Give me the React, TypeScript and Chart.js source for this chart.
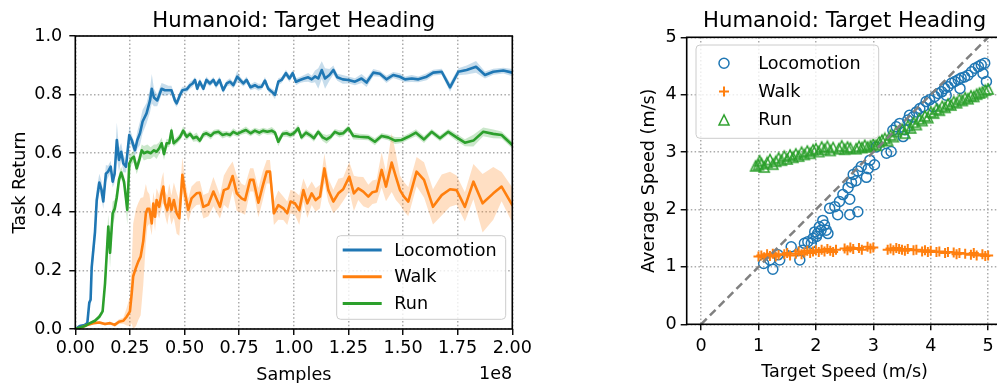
import React, { useEffect, useRef } from "react";
import { Chart, registerables } from "chart.js";

Chart.register(...registerables);

const FONT = '"DejaVu Sans", "Liberation Sans", sans-serif';
const BLUE = "#1f77b4";
const ORANGE = "#ff7f0e";
const GREEN = "#2ca02c";
const TITLE = "Humanoid: Target Heading";
const SERIES_NAMES = ["Locomotion", "Walk", "Run"];
const TEXT_SIZE = 17.6;
const TITLE_SIZE = 21.2;

// ---- Training curves (samples in units of 1e8) ----
const locoSamples = [
  0.0, 0.02, 0.044, 0.055, 0.064, 0.07, 0.075, 0.09, 0.098, 0.11,
  0.12, 0.128, 0.14, 0.15, 0.162, 0.171, 0.18, 0.19, 0.2, 0.21,
  0.22, 0.232, 0.247, 0.258, 0.273, 0.284, 0.296, 0.308, 0.326, 0.342,
  0.35, 0.36, 0.375, 0.395, 0.41, 0.426, 0.44, 0.456, 0.464, 0.48,
  0.49, 0.51, 0.525, 0.537, 0.548, 0.558, 0.57, 0.586, 0.6, 0.616,
  0.632, 0.644, 0.66, 0.677, 0.693, 0.708, 0.723, 0.741, 0.754, 0.769,
  0.784, 0.802, 0.822, 0.838, 0.853, 0.868, 0.883, 0.899, 0.914, 0.929,
  0.944, 0.964, 0.98, 0.995, 1.01, 1.028, 1.047, 1.066, 1.082, 1.097,
  1.112, 1.128, 1.143, 1.163, 1.181, 1.199, 1.224, 1.25, 1.28, 1.31,
  1.333, 1.364, 1.394, 1.424, 1.455, 1.486, 1.509, 1.54, 1.57, 1.608,
  1.638, 1.677, 1.715, 1.753, 1.791, 1.834, 1.875, 1.913, 1.959, 2.0,
];
const locoReturn = [
  0.0, 0.01, 0.014, 0.02, 0.09, 0.1, 0.21, 0.33, 0.44, 0.5,
  0.475, 0.435, 0.53, 0.537, 0.554, 0.503, 0.53, 0.645, 0.577, 0.605,
  0.565, 0.554, 0.662, 0.645, 0.61, 0.645, 0.668, 0.708, 0.736, 0.78,
  0.82, 0.79, 0.78, 0.82, 0.815, 0.815, 0.815, 0.78, 0.77, 0.8,
  0.815, 0.818, 0.832, 0.838, 0.85, 0.82, 0.844, 0.82, 0.85, 0.838,
  0.85, 0.832, 0.85, 0.815, 0.838, 0.844, 0.832, 0.861, 0.85, 0.838,
  0.85, 0.825, 0.832, 0.825, 0.827, 0.848, 0.82, 0.81, 0.799, 0.844,
  0.85, 0.873, 0.855, 0.873, 0.844, 0.85, 0.855, 0.859, 0.852, 0.862,
  0.855, 0.884, 0.855, 0.867, 0.884, 0.859, 0.852, 0.85, 0.844, 0.855,
  0.841, 0.875, 0.871, 0.852, 0.867, 0.861, 0.852, 0.855, 0.852, 0.861,
  0.875, 0.878, 0.825, 0.878, 0.884, 0.895, 0.867, 0.878, 0.882, 0.875,
];
const locoSpread = [
  0.002, 0.004, 0.005, 0.006, 0.01, 0.015, 0.03, 0.04, 0.04, 0.03,
  0.03, 0.025, 0.03, 0.02, 0.02, 0.02, 0.03, 0.06, 0.04, 0.03,
  0.03, 0.02, 0.03, 0.02, 0.02, 0.03, 0.04, 0.04, 0.035, 0.04,
  0.05, 0.03, 0.02, 0.02, 0.02, 0.015, 0.015, 0.015, 0.012, 0.015,
  0.012, 0.01, 0.012, 0.012, 0.01, 0.01, 0.012, 0.01, 0.012, 0.01,
  0.01, 0.012, 0.012, 0.01, 0.01, 0.012, 0.01, 0.02, 0.012, 0.01,
  0.012, 0.01, 0.012, 0.012, 0.01, 0.012, 0.01, 0.01, 0.015, 0.012,
  0.01, 0.012, 0.012, 0.01, 0.012, 0.01, 0.012, 0.015, 0.012, 0.02,
  0.035, 0.03, 0.035, 0.02, 0.015, 0.012, 0.015, 0.012, 0.012, 0.015,
  0.015, 0.012, 0.01, 0.012, 0.01, 0.012, 0.01, 0.012, 0.01, 0.012,
  0.01, 0.01, 0.015, 0.012, 0.015, 0.02, 0.012, 0.01, 0.01, 0.012,
];

const walkSamples = [
  0.0, 0.03, 0.055, 0.082, 0.11, 0.136, 0.159, 0.18, 0.2, 0.22,
  0.235, 0.25, 0.258, 0.265, 0.278, 0.288, 0.299, 0.311, 0.323, 0.33,
  0.339, 0.35, 0.357, 0.365, 0.372, 0.384, 0.395, 0.403, 0.41, 0.421,
  0.43, 0.44, 0.451, 0.464, 0.476, 0.49, 0.502, 0.517, 0.532, 0.555,
  0.57, 0.586, 0.609, 0.632, 0.662, 0.68, 0.7, 0.72, 0.739, 0.761,
  0.777, 0.8, 0.815, 0.838, 0.857, 0.876, 0.891, 0.909, 0.929, 0.952,
  0.97, 0.985, 1.005, 1.025, 1.044, 1.062, 1.082, 1.1, 1.12, 1.14,
  1.158, 1.181, 1.204, 1.226, 1.254, 1.275, 1.295, 1.318, 1.341, 1.36,
  1.379, 1.402, 1.422, 1.448, 1.467, 1.486, 1.504, 1.524, 1.562, 1.596,
  1.637, 1.677, 1.715, 1.745, 1.783, 1.822, 1.864, 1.913, 1.951, 2.0,
];
const walkReturn = [
  0.0, 0.006, 0.014, 0.02, 0.022, 0.017, 0.02, 0.014, 0.025, 0.028,
  0.042, 0.06, 0.12, 0.18, 0.21, 0.23, 0.247, 0.3, 0.395, 0.41,
  0.41, 0.36, 0.428, 0.383, 0.44, 0.417, 0.463, 0.486, 0.43, 0.406,
  0.446, 0.406, 0.44, 0.395, 0.378, 0.526, 0.463, 0.406, 0.446, 0.463,
  0.465, 0.417, 0.425, 0.469, 0.417, 0.474, 0.48, 0.522, 0.463, 0.446,
  0.44, 0.509, 0.509, 0.431, 0.486, 0.537, 0.537, 0.395, 0.423, 0.412,
  0.395, 0.435, 0.429, 0.406, 0.474, 0.429, 0.463, 0.44, 0.452, 0.548,
  0.474, 0.435, 0.463, 0.477, 0.52, 0.463, 0.48, 0.469, 0.452, 0.467,
  0.47, 0.543, 0.486, 0.568, 0.52, 0.474, 0.452, 0.435, 0.537, 0.509,
  0.417, 0.457, 0.477, 0.474, 0.417, 0.503, 0.429, 0.463, 0.486, 0.423,
];
const walkSpread = [
  0.002, 0.003, 0.004, 0.005, 0.005, 0.005, 0.005, 0.006, 0.008, 0.01,
  0.03, 0.05, 0.1, 0.18, 0.2, 0.2, 0.2, 0.15, 0.1, 0.06,
  0.05, 0.04, 0.04, 0.05, 0.04, 0.04, 0.05, 0.05, 0.04, 0.05,
  0.05, 0.05, 0.06, 0.07, 0.06, 0.06, 0.05, 0.04, 0.04, 0.04,
  0.04, 0.04, 0.04, 0.05, 0.04, 0.05, 0.07, 0.05, 0.06, 0.05,
  0.05, 0.04, 0.04, 0.05, 0.05, 0.04, 0.04, 0.04, 0.05, 0.04,
  0.04, 0.04, 0.04, 0.05, 0.04, 0.05, 0.04, 0.04, 0.04, 0.05,
  0.04, 0.04, 0.05, 0.04, 0.05, 0.06, 0.04, 0.05, 0.04, 0.04,
  0.04, 0.06, 0.05, 0.1, 0.08, 0.05, 0.05, 0.05, 0.05, 0.06,
  0.06, 0.07, 0.06, 0.05, 0.05, 0.06, 0.1, 0.09, 0.05, 0.06,
];

const runSamples = [
  0.0, 0.044, 0.067, 0.09, 0.11, 0.125, 0.136, 0.143, 0.151, 0.159,
  0.171, 0.18, 0.19, 0.2, 0.21, 0.223, 0.238, 0.247, 0.258, 0.268,
  0.281, 0.293, 0.304, 0.314, 0.33, 0.345, 0.36, 0.372, 0.384, 0.395,
  0.406, 0.418, 0.43, 0.44, 0.45, 0.467, 0.48, 0.494, 0.51, 0.525,
  0.54, 0.555, 0.57, 0.586, 0.6, 0.62, 0.635, 0.655, 0.674, 0.693,
  0.708, 0.723, 0.741, 0.761, 0.781, 0.802, 0.822, 0.842, 0.86, 0.879,
  0.899, 0.914, 0.929, 0.949, 0.967, 0.984, 1.0, 1.02, 1.035, 1.056,
  1.074, 1.092, 1.112, 1.132, 1.15, 1.169, 1.188, 1.208, 1.226, 1.25,
  1.272, 1.3, 1.341, 1.371, 1.402, 1.432, 1.463, 1.493, 1.524, 1.559,
  1.596, 1.631, 1.669, 1.707, 1.745, 1.783, 1.822, 1.867, 1.913, 1.951, 2.0,
];
const runReturn = [
  0.0, 0.01, 0.02, 0.028, 0.042, 0.06, 0.155, 0.245, 0.35, 0.26,
  0.395, 0.41, 0.45, 0.51, 0.534, 0.503, 0.406, 0.565, 0.582, 0.588,
  0.548, 0.577, 0.61, 0.6, 0.605, 0.6, 0.61, 0.605, 0.617, 0.634,
  0.597, 0.634, 0.634, 0.677, 0.634, 0.645, 0.656, 0.677, 0.656, 0.666,
  0.651, 0.656, 0.643, 0.664, 0.668, 0.659, 0.67, 0.673, 0.662, 0.666,
  0.662, 0.673, 0.666, 0.673, 0.679, 0.668, 0.677, 0.67, 0.677, 0.673,
  0.677, 0.67, 0.639, 0.666, 0.668, 0.662, 0.668, 0.685, 0.654, 0.67,
  0.662, 0.651, 0.673, 0.654, 0.647, 0.656, 0.673, 0.666, 0.668, 0.685,
  0.659, 0.656, 0.654, 0.639, 0.659, 0.654, 0.643, 0.645, 0.656, 0.67,
  0.647, 0.673, 0.651, 0.673, 0.654, 0.636, 0.643, 0.673, 0.666, 0.662, 0.628,
];
const runSpread = [
  0.002, 0.004, 0.005, 0.006, 0.008, 0.01, 0.03, 0.05, 0.04, 0.05,
  0.04, 0.03, 0.03, 0.02, 0.02, 0.02, 0.05, 0.03, 0.02, 0.02,
  0.02, 0.02, 0.02, 0.025, 0.025, 0.02, 0.02, 0.025, 0.02, 0.02,
  0.02, 0.015, 0.012, 0.015, 0.012, 0.012, 0.012, 0.015, 0.012, 0.01,
  0.012, 0.015, 0.01, 0.012, 0.01, 0.012, 0.01, 0.01, 0.012, 0.01,
  0.01, 0.012, 0.01, 0.01, 0.012, 0.01, 0.01, 0.012, 0.01, 0.01,
  0.012, 0.01, 0.015, 0.01, 0.012, 0.01, 0.01, 0.012, 0.01, 0.012,
  0.01, 0.012, 0.01, 0.012, 0.015, 0.01, 0.01, 0.012, 0.01, 0.01,
  0.012, 0.01, 0.01, 0.012, 0.01, 0.01, 0.012, 0.01, 0.01, 0.012,
  0.012, 0.01, 0.01, 0.01, 0.012, 0.012, 0.02, 0.015, 0.015, 0.012, 0.012,
];

// ---- Speed tracking (m/s) ----
const locoTarget = [
  1.09, 1.2, 1.25, 1.34, 1.37, 1.57, 1.72, 1.77, 1.8, 1.86,
  1.92, 1.95, 1.98, 2.01, 2.03, 2.06, 2.09, 2.12, 2.15, 2.18,
  2.21, 2.24, 2.33, 2.38, 2.41, 2.47, 2.56, 2.59, 2.59, 2.62,
  2.65, 2.7, 2.73, 2.73, 2.79, 2.88, 2.91, 2.94, 3.02, 3.05,
  3.23, 3.31, 3.34, 3.4, 3.46, 3.52, 3.55, 3.6, 3.63, 3.69,
  3.75, 3.81, 3.87, 3.92, 3.98, 4.04, 4.07, 4.13, 4.19, 4.24,
  4.27, 4.3, 4.36, 4.42, 4.48, 4.51, 4.53, 4.59, 4.65, 4.71,
  4.77, 4.83, 4.88, 4.91, 4.94, 4.97,
];
const locoAverage = [
  1.06, 1.12, 0.96, 1.21, 1.12, 1.35, 1.12, 1.29, 1.41, 1.44,
  1.41, 1.5, 1.61, 1.53, 1.58, 1.7, 1.64, 1.81, 1.73, 1.64,
  1.58, 2.02, 2.05, 1.91, 2.14, 2.26, 2.38, 2.18, 1.91, 2.47,
  2.61, 2.5, 2.67, 1.96, 2.75, 2.56, 2.71, 2.86, 2.78, 3.09,
  2.98, 3.01, 3.38, 3.44, 3.5, 3.27, 3.39, 3.56, 3.64, 3.61,
  3.7, 3.76, 3.79, 3.88, 3.91, 3.79, 3.97, 4.02, 4.05, 4.11,
  3.99, 4.14, 4.2, 4.23, 4.26, 4.11, 4.29, 4.31, 4.34, 4.4,
  4.46, 4.49, 4.52, 4.37, 4.55, 4.23,
];

const walkTarget = [
  1.0, 1.05, 1.1, 1.15, 1.2, 1.25, 1.3, 1.35, 1.45, 1.5,
  1.55, 1.65, 1.7, 1.75, 1.8, 1.85, 1.9, 1.95, 2.0, 2.05,
  2.1, 2.15, 2.2, 2.25, 2.3, 2.35, 2.5, 2.55, 2.6, 2.65,
  2.75, 2.8, 2.9, 2.95, 3.0, 3.25, 3.3, 3.35, 3.4, 3.45,
  3.5, 3.55, 3.6, 3.7, 3.75, 3.85, 3.9, 3.95, 4.0, 4.1,
  4.15, 4.25, 4.3, 4.4, 4.45, 4.5, 4.6, 4.7, 4.75, 4.8,
  4.9, 4.95, 5.0,
];
const walkAverage = [
  1.18, 1.2, 1.17, 1.22, 1.19, 1.23, 1.18, 1.21, 1.22, 1.24,
  1.2, 1.23, 1.27, 1.22, 1.25, 1.28, 1.24, 1.27, 1.29, 1.26,
  1.3, 1.27, 1.31, 1.28, 1.26, 1.3, 1.32, 1.29, 1.34, 1.31,
  1.33, 1.3, 1.35, 1.32, 1.34, 1.3, 1.32, 1.29, 1.33, 1.31,
  1.3, 1.28, 1.31, 1.29, 1.3, 1.27, 1.29, 1.26, 1.28, 1.26,
  1.27, 1.24, 1.26, 1.25, 1.22, 1.24, 1.23, 1.21, 1.24, 1.2,
  1.22, 1.19, 1.2,
];

const runTarget = [
  0.95, 1.0, 1.02, 1.05, 1.1, 1.15, 1.2, 1.25, 1.3, 1.35,
  1.4, 1.45, 1.5, 1.55, 1.6, 1.65, 1.7, 1.75, 1.8, 1.85,
  1.9, 1.95, 2.0, 2.05, 2.1, 2.15, 2.2, 2.25, 2.3, 2.4,
  2.45, 2.5, 2.55, 2.6, 2.7, 2.75, 2.8, 2.85, 2.9, 2.95,
  3.0, 3.05, 3.1, 3.15, 3.2, 3.25, 3.3, 3.35, 3.4, 3.5,
  3.55, 3.6, 3.65, 3.7, 3.75, 3.8, 3.85, 3.9, 3.95, 4.0,
  4.05, 4.1, 4.15, 4.2, 4.25, 4.3, 4.35, 4.4, 4.45, 4.5,
  4.55, 4.6, 4.65, 4.7, 4.75, 4.8, 4.85, 4.9, 4.95, 5.0,
];
const runAverage = [
  2.76, 2.78, 2.85, 2.8, 2.74, 2.82, 2.87, 2.79, 2.84, 2.9,
  2.86, 2.93, 2.88, 2.95, 2.91, 2.97, 2.93, 3.0, 2.96, 3.02,
  2.98, 3.04, 3.06, 3.01, 3.09, 3.05, 3.1, 3.03, 3.08, 3.06,
  3.11, 3.05, 3.09, 3.07, 3.06, 3.1, 3.08, 3.12, 3.09, 3.11,
  3.14, 3.12, 3.18, 3.21, 3.24, 3.2, 3.3, 3.27, 3.36, 3.4,
  3.33, 3.46, 3.42, 3.52, 3.48, 3.58, 3.55, 3.63, 3.6, 3.7,
  3.68, 3.75, 3.73, 3.8, 3.78, 3.84, 3.82, 3.88, 3.86, 3.92,
  3.9, 3.95, 3.93, 3.98, 3.97, 4.01, 4.03, 4.05, 4.08, 4.1,
];

const identityLine = [0, 5];

// ---- Tick values ----
const SAMPLE_TICKS = [0, 0.25, 0.5, 0.75, 1.0, 1.25, 1.5, 1.75, 2.0];
const RETURN_TICKS = [0, 0.2, 0.4, 0.6, 0.8, 1.0];
const SPEED_TICKS = [0, 1, 2, 3, 4, 5];

const toPoints = (xs: number[], ys: number[]) => xs.map((x, i) => ({ x, y: ys[i] }));

const alpha = (hex: string, a: number) => {
  const n = parseInt(hex.slice(1), 16);
  return `rgba(${(n >> 16) & 255},${(n >> 8) & 255},${n & 255},${a})`;
};

function bandDatasets(xs: number[], ys: number[], spread: number[], color: string) {
  const hidden = { borderColor: "rgba(0,0,0,0)", borderWidth: 0, pointRadius: 0, order: 10 };
  return [
    { ...hidden, data: xs.map((x, i) => ({ x, y: ys[i] + spread[i] })), fill: false },
    {
      ...hidden,
      data: xs.map((x, i) => ({ x, y: Math.max(0, ys[i] - spread[i]) })),
      fill: "-1",
      backgroundColor: alpha(color, 0.25),
    },
  ];
}

function triangleMarker(color: string) {
  const c = document.createElement("canvas");
  c.width = 14;
  c.height = 14;
  const g = c.getContext("2d")!;
  g.strokeStyle = color;
  g.lineWidth = 1.5;
  g.lineJoin = "miter";
  g.beginPath();
  g.moveTo(7, 2);
  g.lineTo(2, 12);
  g.lineTo(12, 12);
  g.closePath();
  g.stroke();
  return c;
}

const GRID = {
  color: "#ababab",
  lineWidth: 1.5,
  tickColor: "#000",
  tickWidth: 1.4,
  tickLength: 6,
  drawTicks: true,
};
const BORDER = { display: false, dash: [1.5, 2.3] };
const TICK_FONT = { family: FONT, size: TEXT_SIZE };

function setTicks(values: number[]) {
  return (scale: any) => {
    scale.ticks = values.map((value) => ({ value }));
  };
}

function roundRect(ctx: CanvasRenderingContext2D, x: number, y: number, w: number, h: number, r: number) {
  ctx.beginPath();
  ctx.moveTo(x + r, y);
  ctx.lineTo(x + w - r, y);
  ctx.arcTo(x + w, y, x + w, y + r, r);
  ctx.lineTo(x + w, y + h - r);
  ctx.arcTo(x + w, y + h, x + w - r, y + h, r);
  ctx.lineTo(x + r, y + h);
  ctx.arcTo(x, y + h, x, y + h - r, r);
  ctx.lineTo(x, y + r);
  ctx.arcTo(x, y, x + r, y, r);
  ctx.closePath();
}

function drawFrameAndTitles(
  ctx: CanvasRenderingContext2D,
  a: any,
  xLabel: string,
  yLabel: string,
  yLabelX: number,
  xLabelY: number
) {
  ctx.strokeStyle = "#000";
  ctx.lineWidth = 1.6;
  ctx.strokeRect(a.left, a.top, a.right - a.left, a.bottom - a.top);
  ctx.fillStyle = "#000";
  ctx.font = `${TITLE_SIZE}px ${FONT}`;
  ctx.textAlign = "center";
  ctx.textBaseline = "alphabetic";
  ctx.fillText(TITLE, (a.left + a.right) / 2, 26.5);
  ctx.font = `${TEXT_SIZE}px ${FONT}`;
  ctx.fillText(xLabel, (a.left + a.right) / 2, xLabelY);
  ctx.save();
  ctx.translate(yLabelX, (a.top + a.bottom) / 2);
  ctx.rotate(-Math.PI / 2);
  ctx.fillText(yLabel, 0, 0);
  ctx.restore();
}

function drawLegendBox(ctx: CanvasRenderingContext2D, x: number, y: number, w: number, h: number) {
  roundRect(ctx, x, y, w, h, 4);
  ctx.fillStyle = "rgba(255,255,255,0.8)";
  ctx.fill();
  ctx.strokeStyle = "#cccccc";
  ctx.lineWidth = 1;
  ctx.stroke();
}

const curveOverlay = {
  id: "curveOverlay",
  afterDraw(chart: any) {
    const { ctx, chartArea: a } = chart;
    ctx.save();
    drawFrameAndTitles(ctx, a, "Samples", "Task Return", a.left - 50.3, 379.5);
    ctx.textAlign = "right";
    ctx.fillText("1e8", a.right, 378.5);

    const w = 169;
    const h = 83.6;
    const bx = a.right - 6.6 - w;
    const by = a.bottom - 9.7 - h;
    drawLegendBox(ctx, bx, by, w, h);
    const colors = [BLUE, ORANGE, GREEN];
    ctx.font = `${TEXT_SIZE}px ${FONT}`;
    ctx.textAlign = "left";
    ctx.textBaseline = "middle";
    SERIES_NAMES.forEach((name, i) => {
      const ry = by + 14.3 + i * 26.7;
      ctx.strokeStyle = colors[i];
      ctx.lineWidth = 3;
      ctx.beginPath();
      ctx.moveTo(bx + 6, ry);
      ctx.lineTo(bx + 45, ry);
      ctx.stroke();
      ctx.fillStyle = "#000";
      ctx.fillText(name, bx + 57.6, ry + 1);
    });
    ctx.restore();
  },
};

function makeSpeedOverlay(tri: HTMLCanvasElement) {
  return {
    id: "speedOverlay",
    afterDraw(chart: any) {
      const { ctx, chartArea: a } = chart;
      ctx.save();
      drawFrameAndTitles(ctx, a, "Target Speed (m/s)", "Average Speed (m/s)", a.left - 32.7, 377);

      const bx = a.left + 9.3;
      const by = a.top + 7.7;
      drawLegendBox(ctx, bx, by, 182.7, 93.3);
      ctx.font = `${TEXT_SIZE}px ${FONT}`;
      ctx.textAlign = "left";
      ctx.textBaseline = "middle";
      SERIES_NAMES.forEach((name, i) => {
        const ry = by + 18.3 + i * 28.3;
        const mx = bx + 28;
        if (i === 0) {
          ctx.strokeStyle = BLUE;
          ctx.lineWidth = 1.5;
          ctx.beginPath();
          ctx.arc(mx, ry, 5, 0, Math.PI * 2);
          ctx.stroke();
        } else if (i === 1) {
          ctx.strokeStyle = ORANGE;
          ctx.lineWidth = 2;
          ctx.beginPath();
          ctx.moveTo(mx - 5, ry);
          ctx.lineTo(mx + 5, ry);
          ctx.moveTo(mx, ry - 5);
          ctx.lineTo(mx, ry + 5);
          ctx.stroke();
        } else {
          ctx.drawImage(tri, mx - 7, ry - 7);
        }
        ctx.fillStyle = "#000";
        ctx.fillText(name, bx + 62.3, ry + 1);
      });
      ctx.restore();
    },
  };
}

export default function App() {
  const curveRef = useRef<HTMLCanvasElement>(null);
  const speedRef = useRef<HTMLCanvasElement>(null);

  useEffect(() => {
    const tri = triangleMarker(GREEN);

    const curveChart = new Chart(curveRef.current!, {
      type: "line",
      data: {
        datasets: [
          ...bandDatasets(locoSamples, locoReturn, locoSpread, BLUE),
          ...bandDatasets(walkSamples, walkReturn, walkSpread, ORANGE),
          ...bandDatasets(runSamples, runReturn, runSpread, GREEN),
          { label: "Locomotion", data: toPoints(locoSamples, locoReturn), borderColor: BLUE, borderWidth: 2.6, pointRadius: 0, fill: false, order: 3 },
          { label: "Walk", data: toPoints(walkSamples, walkReturn), borderColor: ORANGE, borderWidth: 2.6, pointRadius: 0, fill: false, order: 2 },
          { label: "Run", data: toPoints(runSamples, runReturn), borderColor: GREEN, borderWidth: 2.6, pointRadius: 0, fill: false, order: 1 },
        ] as any,
      },
      options: {
        animation: false,
        responsive: false,
        devicePixelRatio: 1,
        events: [],
        layout: { padding: { left: 0, top: 36, right: 560 - 512.3, bottom: 0 } },
        elements: { line: { tension: 0, borderJoinStyle: "round", borderCapStyle: "round" } },
        plugins: { legend: { display: false }, tooltip: { enabled: false }, title: { display: false } },
        scales: {
          x: {
            type: "linear",
            min: 0,
            max: 2,
            afterBuildTicks: setTicks(SAMPLE_TICKS),
            afterFit: (s: any) => {
              s.height = 54;
              s.paddingLeft = 0;
              s.paddingRight = 0;
            },
            grid: GRID,
            border: BORDER,
            ticks: {
              autoSkip: false,
              maxRotation: 0,
              padding: 2.5,
              color: "#000",
              font: TICK_FONT,
              callback: (v: any) => Number(v).toFixed(2),
            },
          },
          y: {
            type: "linear",
            min: 0,
            max: 1,
            afterBuildTicks: setTicks(RETURN_TICKS),
            afterFit: (s: any) => {
              s.width = 75.3;
              s.paddingTop = 0;
              s.paddingBottom = 0;
            },
            grid: GRID,
            border: BORDER,
            ticks: {
              autoSkip: false,
              padding: 7,
              color: "#000",
              font: TICK_FONT,
              callback: (v: any) => Number(v).toFixed(1),
            },
          },
        } as any,
      },
      plugins: [curveOverlay],
    });

    const speedChart = new Chart(speedRef.current!, {
      type: "scatter",
      data: {
        datasets: [
          {
            type: "line",
            data: toPoints(identityLine, identityLine),
            borderColor: "#808080",
            borderWidth: 2.5,
            borderDash: [8, 4.5],
            pointRadius: 0,
            fill: false,
            order: 0,
          },
          {
            label: "Locomotion",
            data: toPoints(locoTarget, locoAverage),
            pointStyle: "circle",
            pointRadius: 5,
            borderColor: BLUE,
            backgroundColor: "rgba(0,0,0,0)",
            borderWidth: 1.5,
            order: 3,
          },
          {
            label: "Walk",
            data: toPoints(walkTarget, walkAverage),
            pointStyle: "cross",
            pointRadius: 5,
            borderColor: ORANGE,
            backgroundColor: ORANGE,
            borderWidth: 2,
            order: 2,
          },
          {
            label: "Run",
            data: toPoints(runTarget, runAverage),
            pointStyle: tri,
            pointRadius: 5,
            borderColor: GREEN,
            backgroundColor: "rgba(0,0,0,0)",
            order: 1,
          },
        ] as any,
      },
      options: {
        animation: false,
        responsive: false,
        devicePixelRatio: 1,
        events: [],
        layout: { padding: { left: 0, top: 37.3, right: 7.5, bottom: 0 } },
        plugins: { legend: { display: false }, tooltip: { enabled: false }, title: { display: false } },
        scales: {
          x: {
            type: "linear",
            min: -0.25,
            max: 5.25,
            afterBuildTicks: setTicks(SPEED_TICKS),
            afterFit: (s: any) => {
              s.height = 58.7;
              s.paddingLeft = 0;
              s.paddingRight = 0;
            },
            grid: GRID,
            border: BORDER,
            ticks: { autoSkip: false, maxRotation: 0, padding: 5.5, color: "#000", font: TICK_FONT, callback: (v: any) => String(v) },
          },
          y: {
            type: "linear",
            min: 0,
            max: 5,
            afterBuildTicks: setTicks(SPEED_TICKS),
            afterFit: (s: any) => {
              s.width = 126.7;
              s.paddingTop = 0;
              s.paddingBottom = 0;
            },
            grid: GRID,
            border: BORDER,
            ticks: { autoSkip: false, padding: 4, color: "#000", font: TICK_FONT, callback: (v: any) => String(v) },
          },
        } as any,
      },
      plugins: [makeSpeedOverlay(tri)],
    });

    return () => {
      curveChart.destroy();
      speedChart.destroy();
    };
  }, []);

  return (
    <div
      style={{
        position: "absolute",
        left: 0,
        top: 0,
        width: 997,
        height: 383,
        overflow: "hidden",
        background: "#fff",
      }}
    >
      <canvas ref={curveRef} width={560} height={383} style={{ position: "absolute", left: 0, top: 0 }} />
      <canvas ref={speedRef} width={450} height={383} style={{ position: "absolute", left: 560, top: 0 }} />
    </div>
  );
}
